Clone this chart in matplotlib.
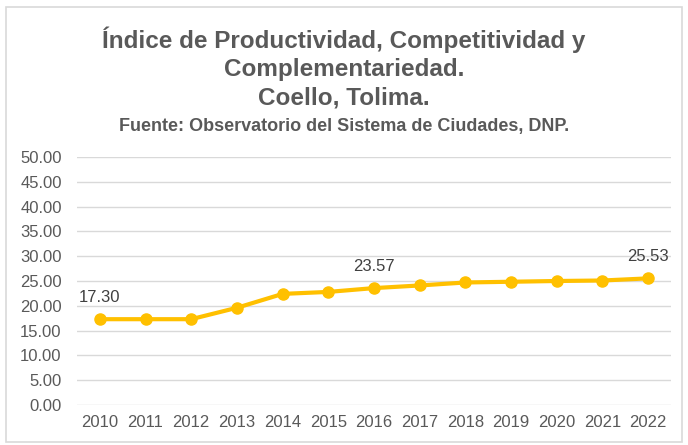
import matplotlib
matplotlib.use("Agg")
import matplotlib.pyplot as plt
from matplotlib.patches import Rectangle

years = ["2010", "2011", "2012", "2013", "2014", "2015", "2016",
         "2017", "2018", "2019", "2020", "2021", "2022"]
values = [17.30, 17.30, 17.30, 19.6, 22.4, 22.8, 23.57,
          24.1, 24.7, 24.85, 25.0, 25.1, 25.53]
labeled = {0: "17.30", 6: "23.57", 12: "25.53"}
yticks = [0, 5, 10, 15, 20, 25, 30, 35, 40, 45, 50]

plt.rcParams['font.family'] = ['Liberation Sans', 'DejaVu Sans']
W, H = 688, 445
fig = plt.figure(figsize=(W / 100, H / 100), dpi=100)
fig.patch.set_facecolor("white")

# outer frame
fig.patches.append(Rectangle((6 / W, 1 - 442 / H), (682 - 6) / W, (442 - 7) / H,
                             transform=fig.transFigure, fill=False,
                             edgecolor="#D9D9D9", linewidth=1.2))

ax = fig.add_axes([77 / W, 1 - 405 / H, (671 - 77) / W, (405 - 157) / H])
x = list(range(len(years)))
ax.plot(x, values, color="#FFC000", linewidth=3, marker="o", markersize=8,
        zorder=3, clip_on=False)
ax.set_xlim(-0.5, len(years) - 0.5)
ax.set_ylim(0, 50)
ax.set_yticks(yticks)
ax.set_yticklabels([f"{v:.2f}" for v in yticks])
ax.set_xticks(x)
ax.set_xticklabels(years)
ax.grid(axis="y", color="#D9D9D9", linewidth=1)
ax.set_axisbelow(True)
for s in ax.spines.values():
    s.set_visible(False)
ax.tick_params(length=0, colors="#595959", labelsize=12)
ax.tick_params(axis="y", pad=11)
ax.tick_params(axis="x", pad=7)

for i, txt in labeled.items():
    ax.annotate(txt, (x[i], values[i]), xytext=(0, 15.5), textcoords="offset points",
                ha="center", va="center", fontsize=12, color="#404040")

title_kw = dict(ha="center", va="center", fontsize=17.5, fontweight="bold", color="#595959")
fig.text(0.5, 1 - 40 / H, "Índice de Productividad, Competitividad y", **title_kw)
fig.text(0.5, 1 - 69 / H, "Complementariedad.", **title_kw)
fig.text(0.5, 1 - 98 / H, "Coello, Tolima.", **title_kw)
fig.text(0.5, 1 - 126 / H, "Fuente: Observatorio del Sistema de Ciudades, DNP.",
         ha="center", va="center", fontsize=13, fontweight="bold", color="#595959")

fig.savefig("out.png", dpi=100, facecolor="white")
